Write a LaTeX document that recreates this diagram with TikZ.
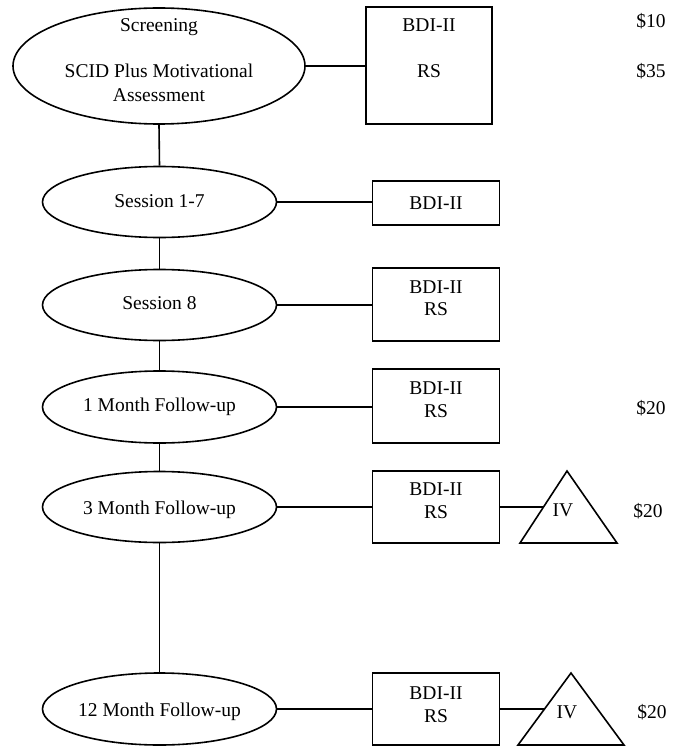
\documentclass[tikz,border=0pt]{standalone}
\usepackage{fontspec}
\setmainfont{Liberation Serif}
\usetikzlibrary{shapes.geometric,calc}

\begin{document}
\begin{tikzpicture}[x=1pt,y=-1pt,
  line width=1.6pt,
  stage/.style={draw, ellipse, inner sep=0pt, minimum width=234pt, minimum height=71pt},
  measure/.style={draw, rectangle, inner sep=0pt, minimum width=127pt},
  lbl/.style={inner sep=0pt, anchor=base, font=\fontsize{19.5}{22}\selectfont},
  link/.style={line width=1.6pt}]

\useasboundingbox (0,0) rectangle (678,746);

% timeline stages
\node[stage, minimum width=292pt, minimum height=116pt] (e1) at (159,66) {};
\node[stage] (e2) at (159.5,202) {};
\node[stage] (e3) at (159.5,305) {};
\node[stage, minimum height=72pt] (e4) at (159.5,407) {};
\node[stage] (e5) at (159.5,507) {};
\node[stage, minimum height=72pt] (e6) at (159.5,709) {};

\node[lbl] (e1a) at (159,32) {Screening};
\node[lbl] (e1b) at (159,78) {SCID Plus Motivational};
\node[lbl] (e1c) at (159,102) {Assessment};
\node[lbl] (e2t) at (159.5,207) {Session 1-7};
\node[lbl] (e3t) at (159.5,309) {Session 8};
\node[lbl] (e4t) at (159.5,411) {1 Month Follow-up};
\node[lbl] (e5t) at (159.5,514) {3 Month Follow-up};
\node[lbl] (e6t) at (159.5,716) {12 Month Follow-up};

% questionnaires given at each stage
\node[measure, minimum width=126pt, minimum height=117pt] (b1) at (429,65.5) {};
\node[measure, minimum height=44pt] (b2) at (436,203) {};
\node[measure, minimum height=73pt] (b3) at (436,304.5) {};
\node[measure, minimum height=74pt] (b4) at (436,406) {};
\node[measure, minimum height=72pt] (b5) at (436,507) {};
\node[measure, minimum height=72pt] (b6) at (436,709) {};

\node[lbl] (b1a) at (429,32) {BDI-II};
\node[lbl] (b1b) at (429,78) {RS};
\node[lbl] (b2t) at (436,209) {BDI-II};
\node[lbl] (b3a) at (436,293) {BDI-II};
\node[lbl] (b3b) at (436,315) {RS};
\node[lbl] (b4a) at (436,394) {BDI-II};
\node[lbl] (b4b) at (436,417) {RS};
\node[lbl] (b5a) at (436,495) {BDI-II};
\node[lbl] (b5b) at (436,518) {RS};
\node[lbl] (b6a) at (436,699) {BDI-II};
\node[lbl] (b6b) at (436,722) {RS};

% interview triangles
\coordinate (t5top) at (567,471);
\coordinate (t5l) at (520,543);
\coordinate (t5r) at (617,543);
\coordinate (t6top) at (571,673);
\coordinate (t6l) at (518,745);
\coordinate (t6r) at (624,745);
\draw[link, line join=miter] (t5top) -- (t5r) -- (t5l) -- cycle;
\draw[link, line join=miter] (t6top) -- (t6r) -- (t6l) -- cycle;
\coordinate (t5in) at ($(t5top)!0.5!(t5l)$);
\coordinate (t6in) at ($(t6top)!0.5!(t6l)$);
\node[lbl] (iv5) at (563,516) {IV};
\node[lbl] (iv6) at (567,718) {IV};

% payments
\node[lbl] (p1) at (651,28) {\$10};
\node[lbl] (p2) at (651,78) {\$35};
\node[lbl] (p4) at (651,414) {\$20};
\node[lbl] (p5) at (648,517) {\$20};
\node[lbl] (p6) at (652,718) {\$20};

% connectors
\draw[link] (e1.south) -- (e2.north);
\draw[link] (e2.south) -- (e3.north);
\draw[link] (e3.south) -- (e4.north);
\draw[link] (e4.south) -- (e5.north);
\draw[link] (e5.south) -- (e6.north);

\draw[link] (e1.east) -- (e1.east -| b1.west);
\draw[link] (e2.east) -- (e2.east -| b2.west);
\draw[link] (e3.east) -- (e3.east -| b3.west);
\draw[link] (e4.east) -- (e4.east -| b4.west);
\draw[link] (e5.east) -- (e5.east -| b5.west);
\draw[link] (e6.east) -- (e6.east -| b6.west);

\draw[link] (b5.east) -- (t5in);
\draw[link] (b6.east) -- (t6in);
\end{tikzpicture}
\end{document}
